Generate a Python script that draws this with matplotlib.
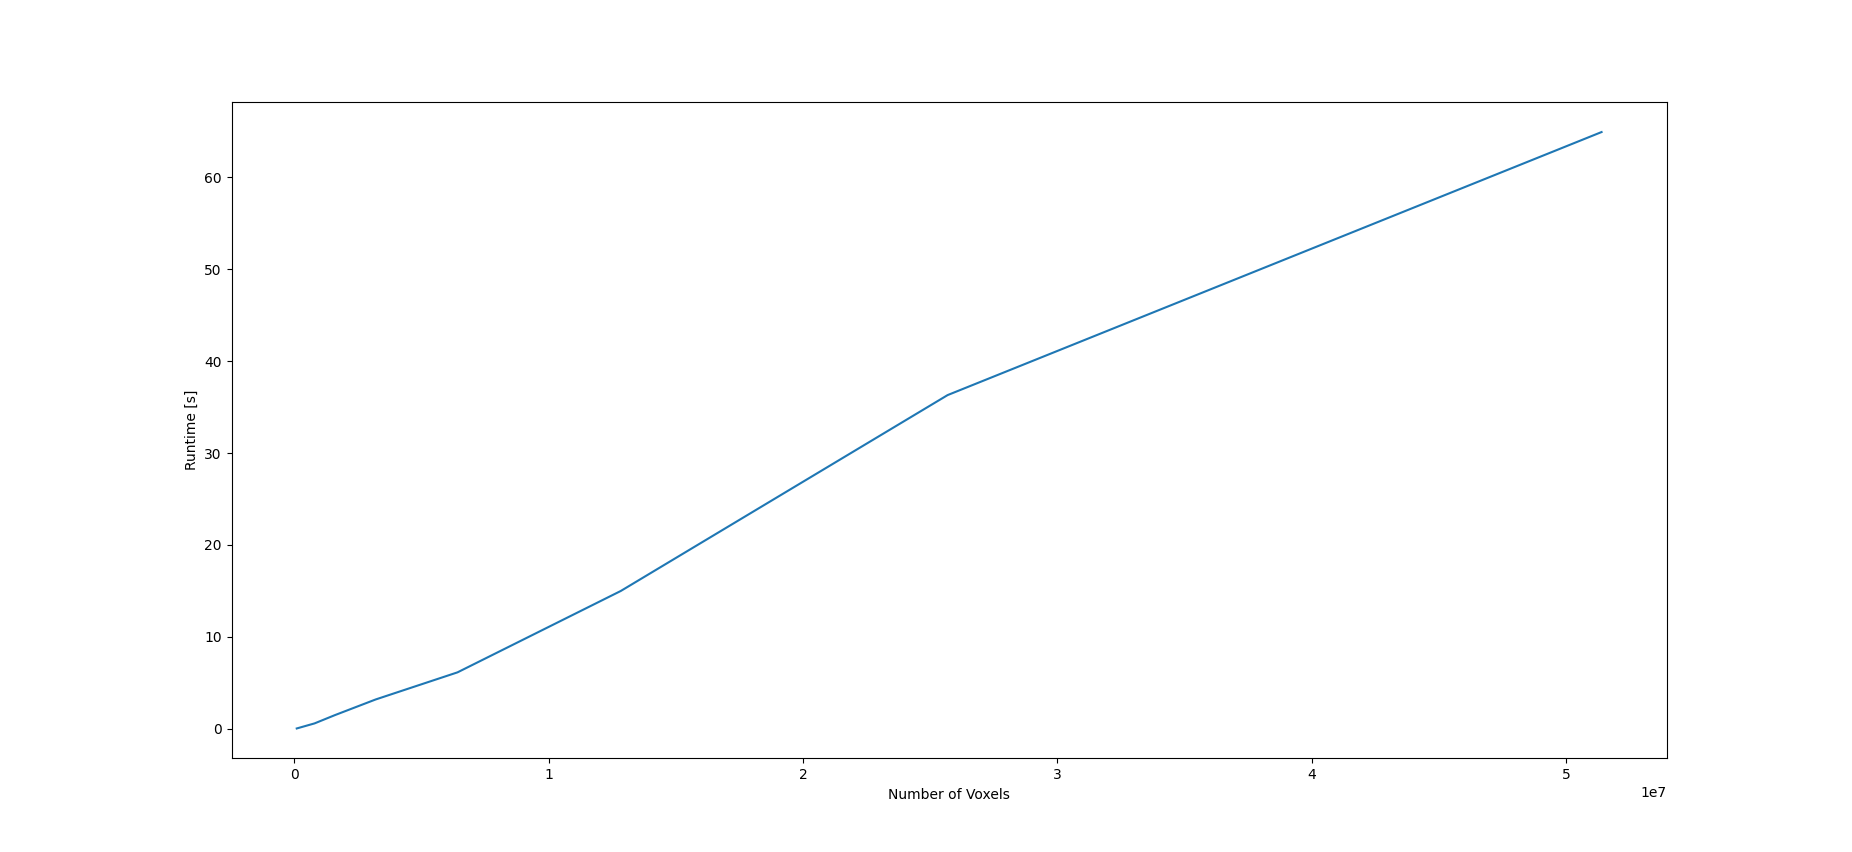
import numpy as np
import matplotlib
matplotlib.use("Agg")
from matplotlib import pyplot as plt

# voxel counts and measured runtimes
voxels = [1.0e5, 8.0e5, 1.6e6, 3.2e6, 6.42e6, 1.284e7, 2.569e7, 5.14e7]
runtime = [0.05, 0.6, 1.5, 3.2, 6.15, 15.0, 36.3, 64.9]

fig = plt.figure(figsize=(18.52, 8.52), dpi=100)
plt.plot(voxels, runtime)
plt.xlabel("Number of Voxels")
plt.ylabel("Runtime [s]")

fig.savefig("out.png", dpi=100)
